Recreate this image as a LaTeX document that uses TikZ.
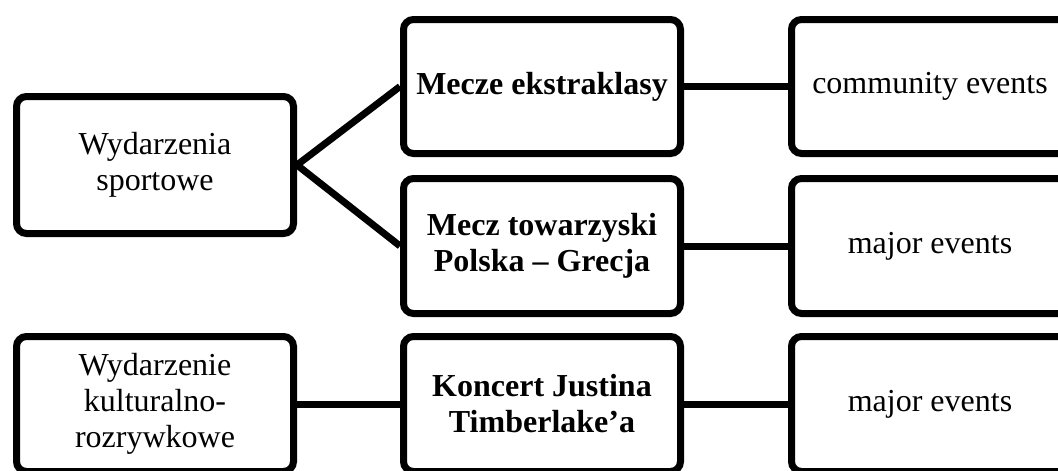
\documentclass[tikz,border=0pt]{standalone}
\usepackage{fontspec}
\setmainfont{Liberation Serif}
\begin{document}
\begin{tikzpicture}[x=1pt,y=-1pt,
  box/.style={draw=black, line width=7pt, rounded corners=10pt, fill=white,
    minimum width=277pt, inner sep=0pt, align=center,
    font=\fontsize{32}{36}\selectfont},
  hi/.style={box, font=\fontsize{32}{36}\selectfont\bfseries},
  link/.style={draw=black, line width=7pt}]
\useasboundingbox (0,0) rectangle (1058,471);
\clip (0,0) rectangle (1058,471);
\fill[white] (0,0) rectangle (1058,471);
\node[box, minimum height=137pt] (sport) at (155,165) {Wydarzenia\\sportowe};
\node[box, minimum height=135pt] (kult) at (155,404) {Wydarzenie\\kulturalno-\\rozrywkowe};
\node[hi, minimum height=134pt] (mecze) at (542,86.5) {Mecze ekstraklasy};
\node[hi, minimum height=135pt] (mecz) at (542,246) {Mecz towarzyski\\Polska -- Grecja};
\node[hi, minimum height=135pt] (konc) at (542,404) {Koncert Justina\\Timberlake'a};
\node[box, minimum height=134pt] (comm) at (930,86.5) {community events};
\node[box, minimum height=135pt] (maj1) at (930,246) {major events};
\node[box, minimum height=135pt] (maj2) at (930,404) {major events};
\draw[link] (sport.east) -- (mecze.west);
\draw[link] (sport.east) -- (mecz.west);
\draw[link] (kult.east) -- (konc.west);
\draw[link] (mecze.east) -- (comm.west);
\draw[link] (mecz.east) -- (maj1.west);
\draw[link] (konc.east) -- (maj2.west);
\end{tikzpicture}
\end{document}
